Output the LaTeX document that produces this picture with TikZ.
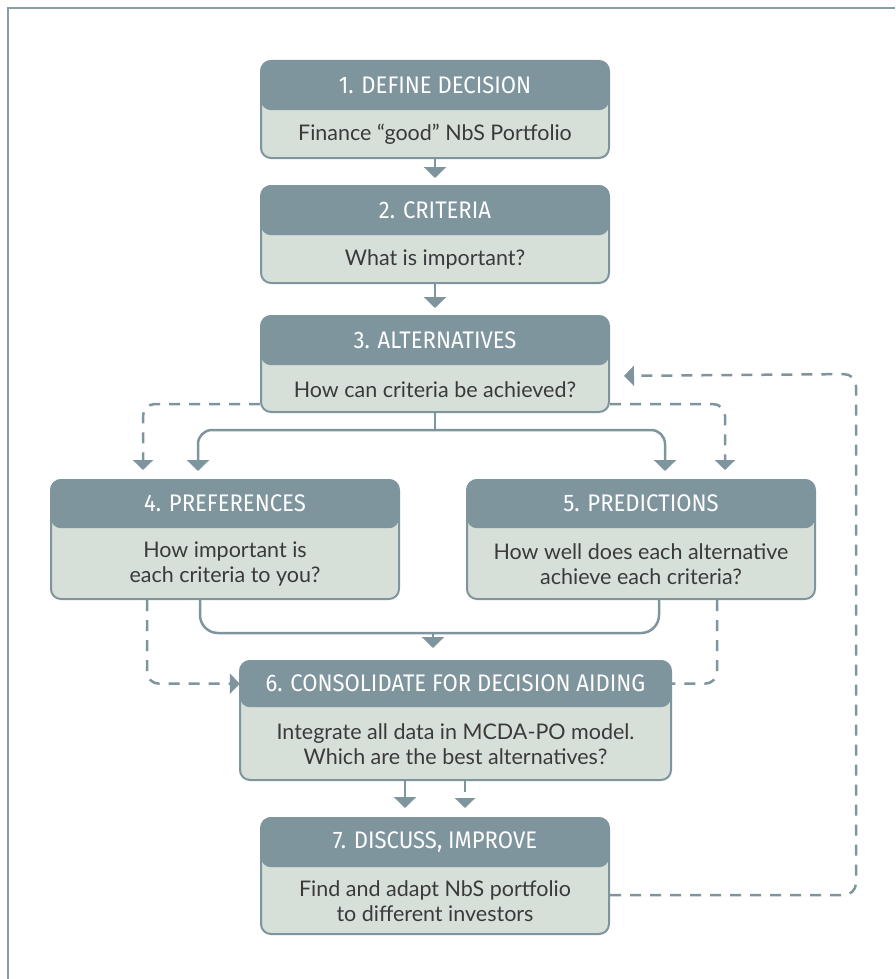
\documentclass[tikz,border=0pt]{standalone}
\usepackage{fontspec}
\setmainfont{Lato}
\newfontfamily\headfont[FakeStretch=0.92]{Fira Sans}
\usetikzlibrary{arrows.meta,positioning,calc}

\definecolor{headcol}{HTML}{7F959E}
\definecolor{bodycol}{HTML}{D6DFD8}
\definecolor{textcol}{HTML}{3A3A3A}
\definecolor{framecol}{HTML}{8A9EA6}

\begin{document}
\begin{tikzpicture}[
    x=1pt, y=-1pt,
    bodybox/.style={rectangle, draw=headcol, line width=2pt, fill=bodycol, rounded corners=10pt, anchor=north, inner sep=0pt, minimum width=348},
    headbox/.style={rectangle, fill=headcol, rounded corners=10pt, anchor=north, inner sep=0pt, minimum width=348, minimum height=50, text=white, font=\fontsize{24}{28}\headfont},
    bodytext/.style={text=textcol, align=center, font=\fontsize{21.5}{25}\selectfont},
    link/.style={headcol, line width=2.5pt},
    arrow/.style={link, -{Triangle[width=22pt,length=11pt]}},
    dlink/.style={link, dash pattern=on 11pt off 9pt},
    darrow/.style={dlink, -{Triangle[width=20pt,length=10pt]}}
  ]

  \useasboundingbox (0,0) rectangle (895,979);

  % Frame (top and left edge only)
  \draw[framecol, line width=2.5pt] (8,979) -- (8,8) -- (895,8);

  % 1. Define decision
  \node[bodybox, minimum height=97] (b1) at (435,60) {};
  \node[headbox] (h1) at (b1.north) {1. DEFINE DECISION};
  \node[bodytext] (t1) at ($(h1.south)!0.5!(b1.south)$) {Finance “good” NbS Portfolio};

  % 2. Criteria
  \node[bodybox, minimum height=97] (b2) at (435,185) {};
  \node[headbox] (h2) at (b2.north) {2. CRITERIA};
  \node[bodytext] (t2) at ($(h2.south)!0.5!(b2.south)$) {What is important?};

  % 3. Alternatives
  \node[bodybox, minimum height=96] (b3) at (435,315) {};
  \node[headbox] (h3) at (b3.north) {3. ALTERNATIVES};
  \node[bodytext] (t3) at ($(h3.south)!0.5!(b3.south)$) {How can criteria be achieved?};

  % 4. Preferences
  \node[bodybox, minimum height=119] (b4) at (225,479) {};
  \node[headbox, minimum height=49] (h4) at (b4.north) {4. PREFERENCES};
  \node[bodytext] (t4) at ($(h4.south)!0.5!(b4.south)$) {How important is\\each criteria to you?};

  % 5. Predictions
  \node[bodybox, minimum height=119] (b5) at (641,479) {};
  \node[headbox, minimum height=49] (h5) at (b5.north) {5. PREDICTIONS};
  \node[bodytext] (t5) at ($(h5.south)!0.5!(b5.south)$) {How well does each alternative\\achieve each criteria?};

  % 6. Consolidate
  \node[bodybox, minimum width=431, minimum height=119] (b6) at (455.5,660) {};
  \node[headbox, minimum width=431, minimum height=47] (h6) at (b6.north) {6. CONSOLIDATE FOR DECISION AIDING};
  \node[bodytext] (t6) at ($(h6.south)!0.5!(b6.south)$) {Integrate all data in MCDA-PO model.\\Which are the best alternatives?};

  % 7. Discuss, improve
  \node[bodybox, minimum height=116] (b7) at (435,817) {};
  \node[headbox] (h7) at (b7.north) {7. DISCUSS, IMPROVE};
  \node[bodytext] (t7) at ($(h7.south)!0.5!(b7.south)$) {Find and adapt NbS portfolio\\to different investors};

  \coordinate (split) at (435,430);
  \coordinate (merge) at (433,633);
  \coordinate (back) at (856,374);

  % Main flow
  \draw[arrow, shorten >=7pt] (b1) -- (h2);
  \draw[arrow, shorten >=7pt] (b2) -- (h3);

  % Split to preferences and predictions
  \draw[link] (b3.south) -- (split);
  \draw[arrow, rounded corners=14pt, shorten >=8pt] (split) -| ([xshift=-27pt]h4.north);
  \draw[arrow, rounded corners=14pt, shorten >=8pt] (split) -| ([xshift=24pt]h5.north);
  \draw[darrow, rounded corners=12pt, shorten >=9pt] ([yshift=9pt]b3.south west) -| ([xshift=-82pt]h4.north);
  \draw[darrow, rounded corners=12pt, shorten >=9pt] ([yshift=9pt]b3.south east) -| ([xshift=84pt]h5.north);

  % Merge into consolidate
  \draw[link, rounded corners=18pt] ([xshift=-25pt]b4.south) |- (merge) -| ([xshift=18pt]b5.south);
  \draw[arrow, shorten >=12pt] (merge) -- (merge |- h6.north);
  \draw[darrow, rounded corners=12pt] ([xshift=-78pt]b4.south) |- (h6.west);
  \draw[dlink, rounded corners=12pt] ([xshift=76pt]b5.south) |- (h6.east);

  % Consolidate to discuss
  \draw[arrow, shorten >=9pt] ([xshift=-30pt]h7.north |- b6.south) -- ([xshift=-30pt]h7.north);
  \draw[darrow, shorten >=9pt] ([xshift=30pt]h7.north |- b6.south) -- ([xshift=30pt]h7.north);

  % Feedback loop
  \draw[darrow, rounded corners=12pt, shorten >=14pt] ([yshift=40pt]b7.south east) -| (back) -- ([yshift=37pt]b3.south east);

\end{tikzpicture}
\end{document}
